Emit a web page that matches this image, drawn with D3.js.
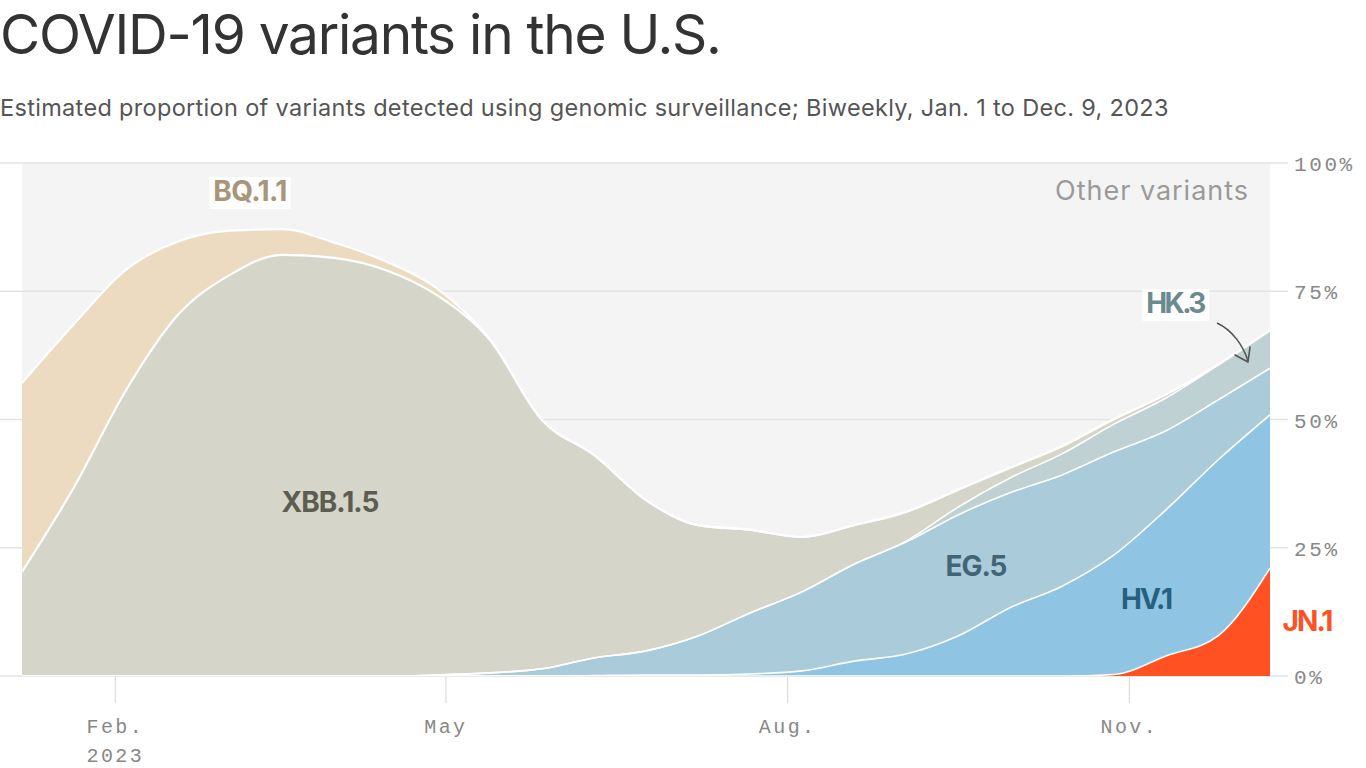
<!DOCTYPE html>
<html>
<head>
<meta charset="utf-8">
<script src="https://cdn.jsdelivr.net/npm/d3@7"></script>
<style>
  html, body { margin: 0; padding: 0; background: #fff; }
  svg { display: block; }
</style>
</head>
<body>
<svg id="chart" width="1366" height="768"></svg>
<script>
// ---------- DATA ----------
const dates = ["2023-01-07","2023-01-21","2023-02-04","2023-02-18","2023-03-04","2023-03-18",
  "2023-04-01","2023-04-15","2023-04-29","2023-05-13","2023-05-27","2023-06-10","2023-06-24",
  "2023-07-08","2023-07-22","2023-08-05","2023-08-19","2023-09-02","2023-09-16","2023-09-30",
  "2023-10-14","2023-10-28","2023-11-11","2023-11-25","2023-12-09"];

const jn1  = [0,0,0,0,0,0,0,0,0,0,0,0,0,0,0,0,0,0,0,0,0,0.3,3.9,7.8,21.0];
const hv1  = [0,0,0,0,0,0,0,0,0,0,0,0.1,0.2,0.2,0.4,1.0,2.9,4.3,7.8,13.3,17.5,23.3,28.5,34.3,29.9];
const eg5  = [0,0,0,0,0,0,0,0,0.2,0.6,1.4,3.4,4.7,7.6,11.9,15.4,18.9,21.8,23.6,22.4,21.7,20.1,15.4,11.7,9.1];
const hk3  = [0,0,0,0,0,0,0,0,0,0,0,0,0,0,0,0,0,0.2,1.5,2.9,4.1,5.4,6.4,6.8,7.4];
const xbb15= [20.3,36.8,55.7,70.4,78.2,82.1,81.5,79.1,73.9,64.9,48.5,39.6,29.4,21.6,16.2,10.7,7.6,5.7,3.4,2.0,1.5,1.0,0.7,0.1,0];
const bq11 = [36.8,31.8,23.5,14.3,8.6,5.0,3.0,1.7,1.3,0.1,0,0,0,0,0,0,0,0,0,0,0,0,0,0,0];

const seriesKeys   = ["JN.1","HV.1","EG.5","HK.3","XBB.1.5","BQ.1.1"];
const seriesValues = [jn1, hv1, eg5, hk3, xbb15, bq11];
const seriesColors = ["#ff5122","#8fc5e2","#aacbda","#bfd1d3","#d5d5c9","#ecdbc1"];

const yTickValues = [0, 25, 50, 75, 100];
const xTickDates  = ["2023-02-01","2023-05-01","2023-08-01","2023-11-01"];
const xTickLabels = ["Feb.","May","Aug.","Nov."];

// ---------- SETUP ----------
const svg = d3.select("#chart");
const plot = {left: 22, right: 1270, top: 163, bottom: 676};
const parse = d3.utcParse("%Y-%m-%d");

const table = dates.map((d, i) => {
  const row = {date: parse(d)};
  seriesKeys.forEach((k, j) => row[k] = seriesValues[j][i]);
  return row;
});

const x = d3.scaleUtc().domain([parse(dates[0]), parse(dates[dates.length-1])]).range([plot.left, plot.right]);
const y = d3.scaleLinear().domain([0, 100]).range([plot.bottom, plot.top]);

const monoFont = "'Liberation Mono', 'DejaVu Sans Mono', monospace";
const sansFont = "Inter, Roboto, 'Liberation Sans', sans-serif";

function fitWidth(sel, target) {
  const node = sel.node();
  const n = node.textContent.length;
  const w = node.getComputedTextLength();
  const ls = (target - w) / Math.max(1, n - 1);
  sel.attr("letter-spacing", ls.toFixed(2));
}

// ---------- TITLE ----------
const title = svg.append("text").attr("x", 0).attr("y", 54)
  .attr("font-family", sansFont).attr("font-size", 55).attr("fill", "#333")
  .text("COVID-19 variants in the U.S.");
fitWidth(title, 722);

const sub = svg.append("text").attr("x", 0).attr("y", 116)
  .attr("font-family", sansFont).attr("font-size", 23.5).attr("fill", "#555")
  .text("Estimated proportion of variants detected using genomic surveillance; Biweekly, Jan. 1 to Dec. 9, 2023");
fitWidth(sub, 1169);

// ---------- BACKGROUND + GRID ----------
svg.append("rect").attr("x", plot.left).attr("y", plot.top)
  .attr("width", plot.right - plot.left).attr("height", plot.bottom - plot.top)
  .attr("fill", "#f4f4f4");

svg.append("g").selectAll("line").data(yTickValues).join("line")
  .attr("x1", 0).attr("x2", 1288)
  .attr("y1", d => y(d)).attr("y2", d => y(d))
  .attr("stroke", "#e3e3e3").attr("stroke-width", 1.5);

// ---------- STACK ----------
const stack = d3.stack().keys(seriesKeys).order(d3.stackOrderNone).offset(d3.stackOffsetNone);
const layers = stack(table);

svg.append("clipPath").attr("id", "clip").append("rect")
  .attr("x", plot.left).attr("y", plot.top - 2)
  .attr("width", plot.right - plot.left).attr("height", plot.bottom - plot.top + 2);

const area = d3.area().curve(d3.curveMonotoneX)
  .x(d => x(d.data.date)).y0(d => y(d[0])).y1(d => y(d[1]));
const topLine = d3.line().curve(d3.curveMonotoneX)
  .x(d => x(d.data.date)).y(d => y(d[1]));

const g = svg.append("g").attr("clip-path", "url(#clip)");
g.selectAll("path.area").data(layers).join("path")
  .attr("class", "area")
  .attr("d", area)
  .attr("fill", (d, i) => seriesColors[i]);
g.selectAll("path.top").data(layers).join("path")
  .attr("class", "top")
  .attr("d", topLine)
  .attr("fill", "none")
  .attr("stroke", "#fff")
  .attr("stroke-width", (d, i) => i >= 4 ? 2.2 : 1.6);

// ---------- Y AXIS (right) ----------
const yAxis = d3.axisRight(y).tickValues(yTickValues).tickSize(0).tickPadding(0)
  .tickFormat(d => d + "%");
const yg = svg.append("g").attr("transform", `translate(1294,0)`).call(yAxis);
yg.select(".domain").remove();
yg.selectAll("text").attr("font-family", monoFont).attr("font-size", 21)
  .attr("fill", "#888").attr("letter-spacing", 2.6).attr("dy", "0.36em");

// ---------- X AXIS ----------
const xAxis = d3.axisBottom(x).tickValues(xTickDates.map(parse)).tickSize(26).tickPadding(0)
  .tickFormat((d, i) => xTickLabels[i]);
const xg = svg.append("g").attr("transform", `translate(0,${plot.bottom + 1})`).call(xAxis);
xg.select(".domain").remove();
xg.selectAll(".tick line").attr("stroke", "#dcdcdc").attr("stroke-width", 1.2);
xg.selectAll(".tick text").attr("font-family", monoFont).attr("font-size", 20)
  .attr("fill", "#888").attr("letter-spacing", 2.4)
  .attr("y", 56).attr("dy", 0);
xg.select(".tick text").each(function() {
  d3.select(this.parentNode).append("text")
    .attr("y", 85).attr("text-anchor", "middle")
    .attr("font-family", monoFont).attr("font-size", 20)
    .attr("fill", "#888").attr("letter-spacing", 2.4)
    .text("2023");
});

// ---------- LABELS ----------
function label(text, cx, baseline, color, opts = {}) {
  const t = svg.append("text").attr("x", cx).attr("y", baseline)
    .attr("text-anchor", opts.anchor || "middle")
    .attr("font-family", sansFont).attr("font-size", opts.size || 28)
    .attr("font-weight", opts.weight || 700).attr("fill", color)
    .text(text);
  if (opts.width) fitWidth(t, opts.width);
  if (opts.box) {
    const bb = t.node().getBBox();
    svg.insert("rect", () => t.node())
      .attr("x", bb.x - 4).attr("y", bb.y + 3)
      .attr("width", bb.width + 8).attr("height", bb.height - 2)
      .attr("fill", "#fff").attr("opacity", 0.85);
  }
  return t;
}

label("BQ.1.1", 250, 201, "#a8957a", {width: 74, box: true});
label("XBB.1.5", 330, 512, "#5c5c51", {width: 98});
label("Other variants", 1249, 200, "#9a9a9a", {anchor: "end", weight: 400, size: 27, width: 193});
label("HK.3", 1175, 313, "#6b8a8f", {width: 60, box: true});
label("EG.5", 976, 576, "#3f6576", {width: 62});
label("HV.1", 1146, 609, "#25617e", {width: 52});
label("JN.1", 1307, 631, "#ff5126", {width: 51});

// ---------- ARROW ----------
svg.append("path")
  .attr("d", "M1217,323 C1232,330 1243,345 1248,361")
  .attr("fill", "none").attr("stroke", "#555").attr("stroke-width", 1.6);
svg.append("path")
  .attr("d", "M1235,355 L1248,362 L1250,347")
  .attr("fill", "none").attr("stroke", "#555").attr("stroke-width", 1.6)
  .attr("stroke-linejoin", "round").attr("stroke-linecap", "round");
</script>
</body>
</html>
